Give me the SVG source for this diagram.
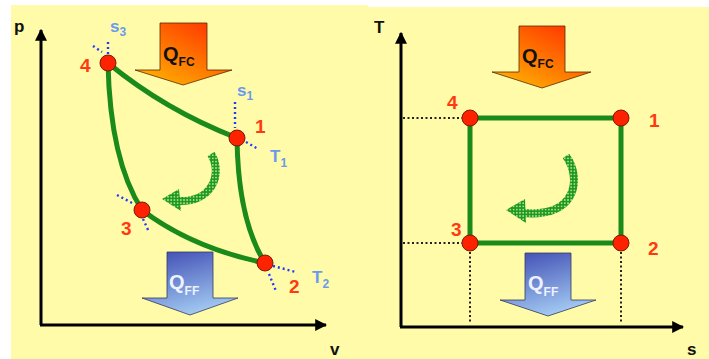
<svg xmlns="http://www.w3.org/2000/svg" width="709" height="359" viewBox="0 0 709 359">
<defs>
<style>
.ax{stroke:#000;stroke-width:3;fill:none}
.axl{font-family:"Liberation Sans",Arial,sans-serif;font-weight:bold;font-size:17px;fill:#111}
.cyc{stroke:#1A8A1A;stroke-width:5;fill:none;stroke-linecap:round}
.pt{fill:#FF2200;stroke:#7A1A00;stroke-width:1}
.num{font-family:"Liberation Sans",Arial,sans-serif;font-weight:bold;font-size:19px;fill:#FF3A10}
.bl{font-family:"Liberation Sans",Arial,sans-serif;font-weight:bold;font-size:17px;fill:#6A9AEE}
.sub{font-size:12px}
.dotb{stroke:#1E3CFF;stroke-width:2.4;stroke-dasharray:2 3;fill:none}
.dotk{stroke:#222;stroke-width:2;stroke-dasharray:2 2.5;fill:none}
.qtxt{font-family:"Liberation Sans",Arial,sans-serif;font-weight:bold;font-size:20px}
.qsub{font-size:12px}
.hot{fill:url(#gHot);stroke:#5a2a00;stroke-width:0.8}
.cold{fill:url(#gCold);stroke:#333a60;stroke-width:0.8}
.spin{stroke:url(#chk);stroke-width:8;fill:none}
.spinh{fill:url(#chk)}
</style>
<linearGradient id="gHot" x1="1" y1="0" x2="0.2" y2="1">
<stop offset="0" stop-color="#FF2A00"/>
<stop offset="1" stop-color="#FFB000"/>
</linearGradient>
<linearGradient id="gCold" x1="0.3" y1="0" x2="0.7" y2="1">
<stop offset="0" stop-color="#4655B8"/>
<stop offset="1" stop-color="#A9D2F6"/>
</linearGradient>
<pattern id="chk" width="3.2" height="3.2" patternUnits="userSpaceOnUse">
<rect width="3.2" height="3.2" fill="#1E9A1E"/>
<rect x="0.9" y="0.9" width="1.4" height="1.4" fill="#D8F0B0"/>
</pattern>
<marker id="ah" viewBox="0 0 10 10" refX="9" refY="5" markerWidth="4" markerHeight="4" orient="auto">
<path d="M0,0 L10,5 L0,10 z" fill="#000"/>
</marker>
</defs>
<rect x="0" y="0" width="709" height="359" fill="#fff"/>
<rect x="11" y="5" width="357" height="354" fill="#FFFBA8"/>
<rect x="368" y="7" width="341" height="352" fill="#FFFBA8"/>

<!-- LEFT p-v diagram -->
<g id="pv-axes">
<path class="ax" d="M41,325 L41,30" marker-end="url(#ah)"/>
<path class="ax" d="M40,325 L326,325" marker-end="url(#ah)"/>
<text class="axl" x="14" y="32">p</text>
<text class="axl" x="330" y="355">v</text>
</g>

<g id="pv-tangents">
<path class="dotb" d="M108,42 L108,54"/>
<path class="dotb" d="M93,46 L102,52"/>
<path class="dotb" d="M235,102 L235,128"/>
<path class="dotb" d="M246,142 L258,149"/>
<path class="dotb" d="M117,195 L134,204"/>
<path class="dotb" d="M143,219 L149,232"/>
<path class="dotb" d="M273,266 L296,272"/>
<path class="dotb" d="M269,274 L276,291"/>
</g>

<g id="pv-connectors">
<path class="cyc" d="M108,63 Q165,110 237,138"/>
<path class="cyc" d="M237,138 Q238,220 265,263"/>
<path class="cyc" d="M265,263 Q192,248 142,210"/>
<path class="cyc" d="M142,210 Q110,160 108,63"/>
</g>

<g id="pv-cycle-arrow">
<path class="spin" d="M211,154 C223,173 213,203 177,201"/>
<polygon class="spinh" points="162,199 179,189 181,211"/>
</g>

<g id="pv-node-4"><circle class="pt" cx="108" cy="63" r="8"/><text class="num" x="80" y="72">4</text></g>
<g id="pv-node-1"><circle class="pt" cx="237" cy="138" r="8"/><text class="num" x="255" y="133">1</text></g>
<g id="pv-node-3"><circle class="pt" cx="142" cy="210" r="8"/><text class="num" x="121" y="235">3</text></g>
<g id="pv-node-2"><circle class="pt" cx="265" cy="263" r="8"/><text class="num" x="289" y="293">2</text></g>

<g id="pv-labels">
<text class="bl" x="110" y="32">s<tspan class="sub" dy="4">3</tspan></text>
<text class="bl" x="237" y="96">s<tspan class="sub" dy="4">1</tspan></text>
<text class="bl" x="270" y="162">T<tspan class="sub" dy="5">1</tspan></text>
<text class="bl" x="312" y="283">T<tspan class="sub" dy="5">2</tspan></text>
</g>

<g id="pv-qfc">
<path class="hot" d="M160,23 L207,23 L207,70 L232,70 L183,85 L135,70 L160,70 Z"/>
<text class="qtxt" x="163" y="61" fill="#111">Q<tspan class="qsub" dy="5">FC</tspan></text>
</g>
<g id="pv-qff">
<path class="cold" d="M167,252 L213,252 L213,298 L238,298 L190,315 L142,298 L167,298 Z"/>
<text class="qtxt" x="169" y="289" fill="#EEF2FF">Q<tspan class="qsub" dy="6">FF</tspan></text>
</g>

<!-- RIGHT T-s diagram -->
<g id="ts-axes">
<path class="ax" d="M401,327 L401,33" marker-end="url(#ah)"/>
<path class="ax" d="M400,327 L683,327" marker-end="url(#ah)"/>
<text class="axl" x="374" y="33">T</text>
<text class="axl" x="687" y="355">s</text>
</g>

<g id="ts-guides">
<path class="dotk" d="M403,118 L462,118"/>
<path class="dotk" d="M403,243 L462,243"/>
<path class="dotk" d="M470,252 L470,323"/>
<path class="dotk" d="M621,252 L621,323"/>
</g>

<g id="ts-connectors">
<path class="cyc" d="M470,118 L621,118 L621,243 L470,243 Z"/>
</g>

<g id="ts-cycle-arrow">
<path class="spin" d="M566,156 C582,178 577,218 523,213"/>
<polygon class="spinh" points="506,210 525,199 526,223"/>
</g>

<g id="ts-node-4"><circle class="pt" cx="470" cy="118" r="8"/><text class="num" x="447" y="109">4</text></g>
<g id="ts-node-1"><circle class="pt" cx="621" cy="118" r="8"/><text class="num" x="649" y="127">1</text></g>
<g id="ts-node-3"><circle class="pt" cx="470" cy="243" r="8"/><text class="num" x="451" y="236">3</text></g>
<g id="ts-node-2"><circle class="pt" cx="621" cy="243" r="8"/><text class="num" x="648" y="255">2</text></g>

<g id="ts-qfc">
<path class="hot" d="M519,26 L565,26 L565,72 L591,72 L542,88 L492,72 L519,72 Z"/>
<text class="qtxt" x="522" y="63" fill="#111">Q<tspan class="qsub" dy="5">FC</tspan></text>
</g>
<g id="ts-qff">
<path class="cold" d="M525,253 L571,253 L571,300 L596,300 L548,316 L500,300 L525,300 Z"/>
<text class="qtxt" x="528" y="290" fill="#EEF2FF">Q<tspan class="qsub" dy="6">FF</tspan></text>
</g>
</svg>
